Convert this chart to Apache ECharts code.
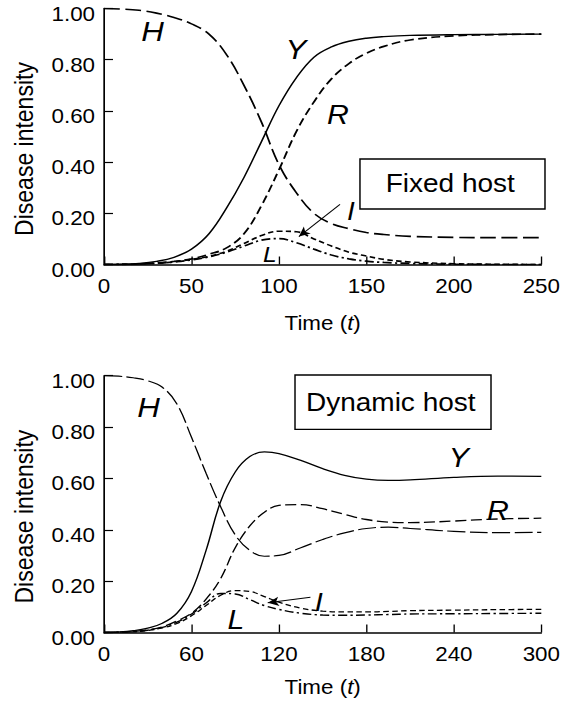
<!DOCTYPE html>
<html>
<head>
<meta charset="utf-8">
<script src="https://cdn.jsdelivr.net/npm/echarts@6/dist/echarts.min.js"></script>
<style>
  html, body { margin: 0; padding: 0; background: #fff; overflow: hidden; }
  /* the source figure is a little wider than tall fonts would suggest, so stretch it */
  #main { width: 503px; height: 704px; transform: scaleX(1.12); transform-origin: 0 0; }
</style>
</head>
<body>
<div id="main"></div>
<script>
// fixed host panel
var fixT = [0, 10, 20, 30, 40, 50, 60, 70, 80, 90, 100, 110, 120, 130, 140, 150, 160, 175, 200, 225, 250];
var fixH = [1.0, 0.998, 0.993, 0.982, 0.965, 0.94, 0.9, 0.82, 0.7, 0.556, 0.39, 0.28, 0.2, 0.16, 0.14, 0.125, 0.117, 0.11, 0.106, 0.105, 0.105];
var fixY = [0, 0.001, 0.004, 0.012, 0.028, 0.06, 0.12, 0.22, 0.34, 0.48, 0.62, 0.73, 0.81, 0.85, 0.872, 0.884, 0.89, 0.895, 0.898, 0.899, 0.9];
var fixR = [0, 0, 0.002, 0.006, 0.012, 0.022, 0.04, 0.065, 0.12, 0.23, 0.37, 0.52, 0.635, 0.725, 0.785, 0.825, 0.852, 0.877, 0.893, 0.898, 0.9];
var fixI = [0, 0.0005, 0.002, 0.005, 0.01, 0.02, 0.032, 0.052, 0.082, 0.113, 0.13, 0.128, 0.1, 0.072, 0.048, 0.033, 0.02, 0.01, 0.003, 0.001, 0];
var fixL = [0, 0.0005, 0.002, 0.005, 0.01, 0.018, 0.03, 0.048, 0.072, 0.095, 0.101, 0.085, 0.06, 0.037, 0.022, 0.013, 0.008, 0.004, 0.001, 0, 0];

// dynamic host panel
var dynT = [0, 10, 20, 30, 40, 50, 60, 70, 80, 90, 100, 110, 120, 135, 150, 165, 180, 195, 210, 240, 270, 300];
var dynH = [1.0, 0.998, 0.992, 0.98, 0.955, 0.89, 0.76, 0.62, 0.49, 0.38, 0.32, 0.297, 0.3, 0.33, 0.362, 0.388, 0.405, 0.41, 0.405, 0.394, 0.389, 0.39];
var dynY = [0, 0.002, 0.007, 0.017, 0.036, 0.075, 0.16, 0.32, 0.51, 0.625, 0.685, 0.703, 0.697, 0.67, 0.638, 0.612, 0.597, 0.592, 0.594, 0.604, 0.609, 0.608];
var dynR = [0, 0.001, 0.004, 0.01, 0.022, 0.045, 0.075, 0.13, 0.21, 0.33, 0.415, 0.468, 0.495, 0.498, 0.482, 0.46, 0.44, 0.43, 0.428, 0.434, 0.442, 0.445];
var dynI = [0, 0.001, 0.003, 0.008, 0.018, 0.035, 0.065, 0.105, 0.145, 0.163, 0.16, 0.14, 0.118, 0.095, 0.083, 0.08, 0.08, 0.082, 0.085, 0.087, 0.089, 0.09];
var dynL = [0, 0.001, 0.003, 0.009, 0.02, 0.04, 0.072, 0.115, 0.152, 0.15, 0.128, 0.105, 0.09, 0.075, 0.068, 0.067, 0.068, 0.07, 0.072, 0.073, 0.074, 0.075];

var fixTicks = { max: 250, interval: 50 };
var dynTicks = { max: 300, interval: 60 };

function pairs(t, v) {
  return t.map(function (x, i) { return [x, v[i]]; });
}

var FONT = 'Liberation Sans';

function xAxisFor(idx, ticks, gap) {
  return {
    type: 'value', gridIndex: idx, min: 0, max: ticks.max, interval: ticks.interval,
    name: '{a|Time (}{b|t}{a|)}', nameLocation: 'middle', nameGap: gap,
    nameTextStyle: { rich: {
      a: { fontSize: 20, color: '#000', fontFamily: FONT },
      b: { fontSize: 20, color: '#000', fontFamily: FONT, fontStyle: 'italic' }
    } },
    axisLine: { lineStyle: { color: '#000', width: 1.5 } },
    axisTick: { inside: true, length: 8, lineStyle: { color: '#000', width: 1.2 } },
    axisLabel: { fontSize: 20, color: '#000', margin: 11, fontFamily: FONT },
    splitLine: { show: false }
  };
}

function yAxisFor(idx) {
  return {
    type: 'value', gridIndex: idx, min: 0, max: 1, interval: 0.2,
    name: 'Disease intensity', nameLocation: 'middle', nameGap: 60, nameRotate: 90,
    nameTextStyle: { fontSize: 23, color: '#000', fontFamily: FONT, padding: [0, 25, 0, 0] },
    axisLine: { show: true, lineStyle: { color: '#000', width: 1.5 } },
    axisTick: { show: true, inside: true, length: 8, lineStyle: { color: '#000', width: 1.2 } },
    // labels sit a few pixels below their ticks in the source
    axisLabel: { fontSize: 20, color: '#000', margin: 8, fontFamily: FONT,
      verticalAlign: 'top', lineHeight: 10,
      formatter: function (v) { return v.toFixed(2); } },
    splitLine: { show: false }
  };
}

function line(name, idx, data, dash, width) {
  return {
    name: name, type: 'line', xAxisIndex: idx, yAxisIndex: idx,
    data: data, smooth: 0.4, symbol: 'none', silent: true,
    lineStyle: { color: '#000', width: width, type: dash }
  };
}

function arrow(from, to) {
  return {
    silent: true, symbol: ['none', 'arrow'], symbolSize: [7, 10],
    label: { show: false },
    lineStyle: { color: '#000', width: 1, type: 'solid' },
    data: [[{ coord: from }, { coord: to }]]
  };
}

function letter(txt, x, y, size) {
  return { type: 'text', x: x, y: y, style: {
    text: txt, fontSize: size, fontStyle: 'italic', fontFamily: FONT, fill: '#000',
    align: 'center', verticalAlign: 'middle' } };
}

function box(txt, x, y, w, h) {
  return [
    { type: 'rect', shape: { x: x, y: y, width: w, height: h },
      style: { fill: '#fff', stroke: '#000', lineWidth: 1.3 }, z: 10 },
    { type: 'text', x: x + w / 2 - 2, y: y + h / 2, z: 11, style: {
      text: txt, fontSize: 25, fontFamily: FONT, fill: '#000', align: 'center', verticalAlign: 'middle' } }
  ];
}

var chart = echarts.init(document.getElementById('main'), null, { renderer: 'svg' });

var fixIline = line('I', 0, pairs(fixT, fixI), [5, 3], 1.6);
fixIline.markLine = arrow([134.9, 0.235], [111.4, 0.109]);
var dynIline = line('I', 1, pairs(dynT, dynI), [5, 3], 1.3);
dynIline.markLine = arrow([141.6, 0.137], [112.3, 0.116]);

chart.setOption({
  animation: false,
  textStyle: { fontFamily: FONT },
  grid: [
    { left: 92.9, width: 396, top: 8.5, height: 256 },
    { left: 92.9, width: 396, top: 375.7, height: 256.8 }
  ],
  xAxis: [xAxisFor(0, fixTicks, 48), xAxisFor(1, dynTicks, 44)],
  yAxis: [yAxisFor(0), yAxisFor(1)],
  series: [
    line('H', 0, pairs(fixT, fixH), [14, 5], 1.6),
    line('Y', 0, pairs(fixT, fixY), 'solid', 1.4),
    line('R', 0, pairs(fixT, fixR), [8, 4], 1.7),
    fixIline,
    line('L', 0, pairs(fixT, fixL), [8, 3, 2, 3], 1.7),
    line('H', 1, pairs(dynT, dynH), [16, 4], 1.2),
    line('Y', 1, pairs(dynT, dynY), 'solid', 1.3),
    line('R', 1, pairs(dynT, dynR), [10, 4], 1.3),
    dynIline,
    line('L', 1, pairs(dynT, dynL), [8, 3, 2, 3], 1.4)
  ],
  graphic: [
    letter('H', 136.2, 31, 28),
    letter('Y', 264.3, 49, 28),
    letter('R', 301.8, 115, 27),
    letter('I', 313.4, 211.5, 25),
    letter('L', 241, 254.5, 22),
    letter('H', 132.6, 407.5, 28),
    letter('Y', 409.6, 458, 27),
    letter('R', 444.5, 511, 27),
    letter('I', 284.6, 602, 26),
    letter('L', 210.7, 620, 27)
  ].concat(box('Fixed host', 321.4, 159, 165.2, 50))
   .concat(box('Dynamic host', 263.4, 375, 175, 54.3))
});
</script>
</body>
</html>
